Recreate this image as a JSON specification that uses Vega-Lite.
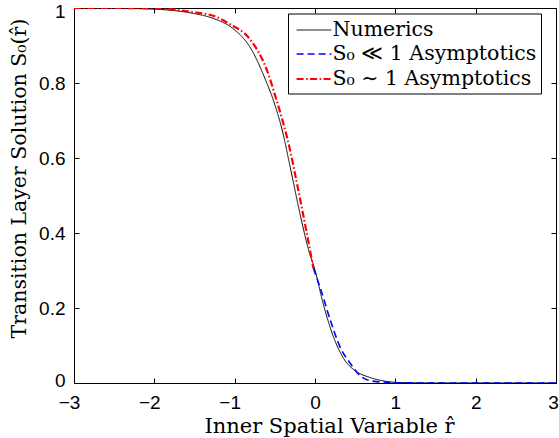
{
  "$schema": "https://vega.github.io/schema/vega-lite/v6.json",
  "width": 482,
  "height": 375,
  "autosize": {"type": "none"},
  "padding": {"left": 74, "top": 8, "right": 3, "bottom": 55},
  "background": "white",
  "config": {
    "view": {"stroke": "black", "strokeWidth": 1},
    "axis": {
      "grid": false,
      "domainColor": "black",
      "tickColor": "black",
      "tickWidth": 1,
      "labelColor": "black",
      "titleColor": "black",
      "labelFont": "Liberation Sans",
      "labelFontSize": 19,
      "titleFont": "DejaVu Serif",
      "titleFontSize": 20,
      "titleFontWeight": "normal"
    }
  },
  "datasets": {
    "curves": [
      {"series": "Numerics", "r": -3.0, "s": 1.0},
      {"series": "Numerics", "r": -2.5, "s": 0.9995},
      {"series": "Numerics", "r": -2.0, "s": 0.997},
      {"series": "Numerics", "r": -1.75, "s": 0.993},
      {"series": "Numerics", "r": -1.5, "s": 0.985},
      {"series": "Numerics", "r": -1.25, "s": 0.971},
      {"series": "Numerics", "r": -1.02, "s": 0.945},
      {"series": "Numerics", "r": -0.81, "s": 0.896},
      {"series": "Numerics", "r": -0.6, "s": 0.8},
      {"series": "Numerics", "r": -0.52, "s": 0.755},
      {"series": "Numerics", "r": -0.4, "s": 0.667},
      {"series": "Numerics", "r": -0.31, "s": 0.577},
      {"series": "Numerics", "r": -0.17, "s": 0.435},
      {"series": "Numerics", "r": -0.08, "s": 0.355},
      {"series": "Numerics", "r": 0.0, "s": 0.301},
      {"series": "Numerics", "r": 0.1, "s": 0.213},
      {"series": "Numerics", "r": 0.23, "s": 0.123},
      {"series": "Numerics", "r": 0.37, "s": 0.061},
      {"series": "Numerics", "r": 0.52, "s": 0.03},
      {"series": "Numerics", "r": 0.68, "s": 0.015},
      {"series": "Numerics", "r": 0.87, "s": 0.005},
      {"series": "Numerics", "r": 1.06, "s": 0.001},
      {"series": "Numerics", "r": 1.5, "s": 0.0},
      {"series": "Numerics", "r": 3.0, "s": 0.0},
      {"series": "S₀ ≪ 1 Asymptotics", "r": -0.02, "s": 0.306},
      {"series": "S₀ ≪ 1 Asymptotics", "r": 0.06, "s": 0.257},
      {"series": "S₀ ≪ 1 Asymptotics", "r": 0.19, "s": 0.168},
      {"series": "S₀ ≪ 1 Asymptotics", "r": 0.31, "s": 0.097},
      {"series": "S₀ ≪ 1 Asymptotics", "r": 0.44, "s": 0.052},
      {"series": "S₀ ≪ 1 Asymptotics", "r": 0.56, "s": 0.02},
      {"series": "S₀ ≪ 1 Asymptotics", "r": 0.72, "s": 0.005},
      {"series": "S₀ ≪ 1 Asymptotics", "r": 1.0, "s": 0.0008},
      {"series": "S₀ ≪ 1 Asymptotics", "r": 1.5, "s": 0.0},
      {"series": "S₀ ≪ 1 Asymptotics", "r": 3.0, "s": 0.0},
      {"series": "S₀ ∼ 1 Asymptotics", "r": -3.0, "s": 1.0},
      {"series": "S₀ ∼ 1 Asymptotics", "r": -2.5, "s": 1.0},
      {"series": "S₀ ∼ 1 Asymptotics", "r": -2.05, "s": 0.999},
      {"series": "S₀ ∼ 1 Asymptotics", "r": -1.75, "s": 0.996},
      {"series": "S₀ ∼ 1 Asymptotics", "r": -1.56, "s": 0.99},
      {"series": "S₀ ∼ 1 Asymptotics", "r": -1.25, "s": 0.978},
      {"series": "S₀ ∼ 1 Asymptotics", "r": -1.06, "s": 0.957},
      {"series": "S₀ ∼ 1 Asymptotics", "r": -0.81, "s": 0.917},
      {"series": "S₀ ∼ 1 Asymptotics", "r": -0.6, "s": 0.835},
      {"series": "S₀ ∼ 1 Asymptotics", "r": -0.48, "s": 0.755},
      {"series": "S₀ ∼ 1 Asymptotics", "r": -0.395, "s": 0.693},
      {"series": "S₀ ∼ 1 Asymptotics", "r": -0.31, "s": 0.621},
      {"series": "S₀ ∼ 1 Asymptotics", "r": -0.25, "s": 0.559},
      {"series": "S₀ ∼ 1 Asymptotics", "r": -0.07, "s": 0.363},
      {"series": "S₀ ∼ 1 Asymptotics", "r": -0.02, "s": 0.306}
    ]
  },
  "data": {"name": "curves"},
  "layer": [
    {
      "mark": {"type": "line", "clip": true, "interpolate": "monotone"},
      "encoding": {
        "x": {
          "field": "r", "type": "quantitative",
          "scale": {"domain": [-3, 3], "nice": false, "zero": false},
          "axis": {
            "orient": "bottom", "values": [-3, -2, -1, 0, 1, 2, 3], "format": "d",
            "ticks": false, "labelPadding": 10, "labelFlush": false,
            "labelOffset": {"condition": [{"test": "datum.value < 0", "value": -5}, {"test": "datum.value == 3", "value": -3}], "value": 0},
            "title": "Inner Spatial Variable r̂", "titlePadding": 3, "titleFontSize": 21, "titleX": 255
          }
        },
        "y": {
          "field": "s", "type": "quantitative",
          "scale": {"domain": [0, 1], "nice": false},
          "axis": {
            "orient": "left", "values": [0, 0.2, 0.4, 0.6, 0.8, 1], "format": ".1~f",
            "ticks": false, "labelPadding": 9,
            "labelOffset": {"condition": [{"test": "datum.value == 1", "value": 3}, {"test": "datum.value == 0", "value": -3}], "value": 0},
            "title": "Transition Layer Solution S₀(r̂)", "titlePadding": 9, "titleY": 170, "titleFontSize": 20.5
          }
        },
        "color": {
          "field": "series", "type": "nominal",
          "scale": {"domain": ["Numerics", "S₀ ≪ 1 Asymptotics", "S₀ ∼ 1 Asymptotics"], "range": ["black", "#0000ff", "#ff0000"]},
          "legend": {
            "title": null, "orient": "none", "legendX": 214, "legendY": 5.5,
            "strokeColor": "black", "fillColor": "white", "padding": 4, "cornerRadius": 0,
            "labelFont": "DejaVu Serif", "labelFontSize": 20.5, "labelColor": "black", "labelLimit": 400,
            "symbolType": "M-1.45,0H1.45", "symbolSize": 576, "symbolOffset": 8.5, "rowPadding": 0.5, "labelOffset": 5
          }
        },
        "strokeDash": {
          "field": "series", "type": "nominal",
          "scale": {"domain": ["Numerics", "S₀ ≪ 1 Asymptotics", "S₀ ∼ 1 Asymptotics"], "range": [[1, 0], [7, 4], [7, 2.5, 1.5, 2.5]]},
          "legend": null
        },
        "strokeWidth": {
          "field": "series", "type": "nominal",
          "scale": {"domain": ["Numerics", "S₀ ≪ 1 Asymptotics", "S₀ ∼ 1 Asymptotics"], "range": [1, 2.2, 2.2]},
          "legend": null
        }
      }
    },
    {
      "mark": {"type": "line", "opacity": 0},
      "encoding": {
        "x": {"field": "r", "type": "quantitative", "axis": {"orient": "top", "offset": -375, "values": [-3, -2, -1, 0, 1, 2, 3], "labels": false, "title": null, "domain": false, "tickSize": 5}},
        "y": {"field": "s", "type": "quantitative", "axis": {"orient": "right", "offset": -482, "values": [0, 0.2, 0.4, 0.6, 0.8, 1], "labels": false, "title": null, "domain": false, "tickSize": 5}},
        "detail": {"field": "series"}
      }
    },
    {
      "mark": {"type": "line", "opacity": 0},
      "encoding": {
        "x": {"field": "r", "type": "quantitative", "axis": {"orient": "bottom", "offset": -375, "values": [-3, -2, -1, 0, 1, 2, 3], "labels": false, "title": null, "domain": false, "tickSize": 5}},
        "y": {"field": "s", "type": "quantitative", "axis": {"orient": "left", "offset": -482, "values": [0, 0.2, 0.4, 0.6, 0.8, 1], "labels": false, "title": null, "domain": false, "tickSize": 5}},
        "detail": {"field": "series"}
      }
    }
  ],
  "resolve": {"axis": {"x": "independent", "y": "independent"}}
}
